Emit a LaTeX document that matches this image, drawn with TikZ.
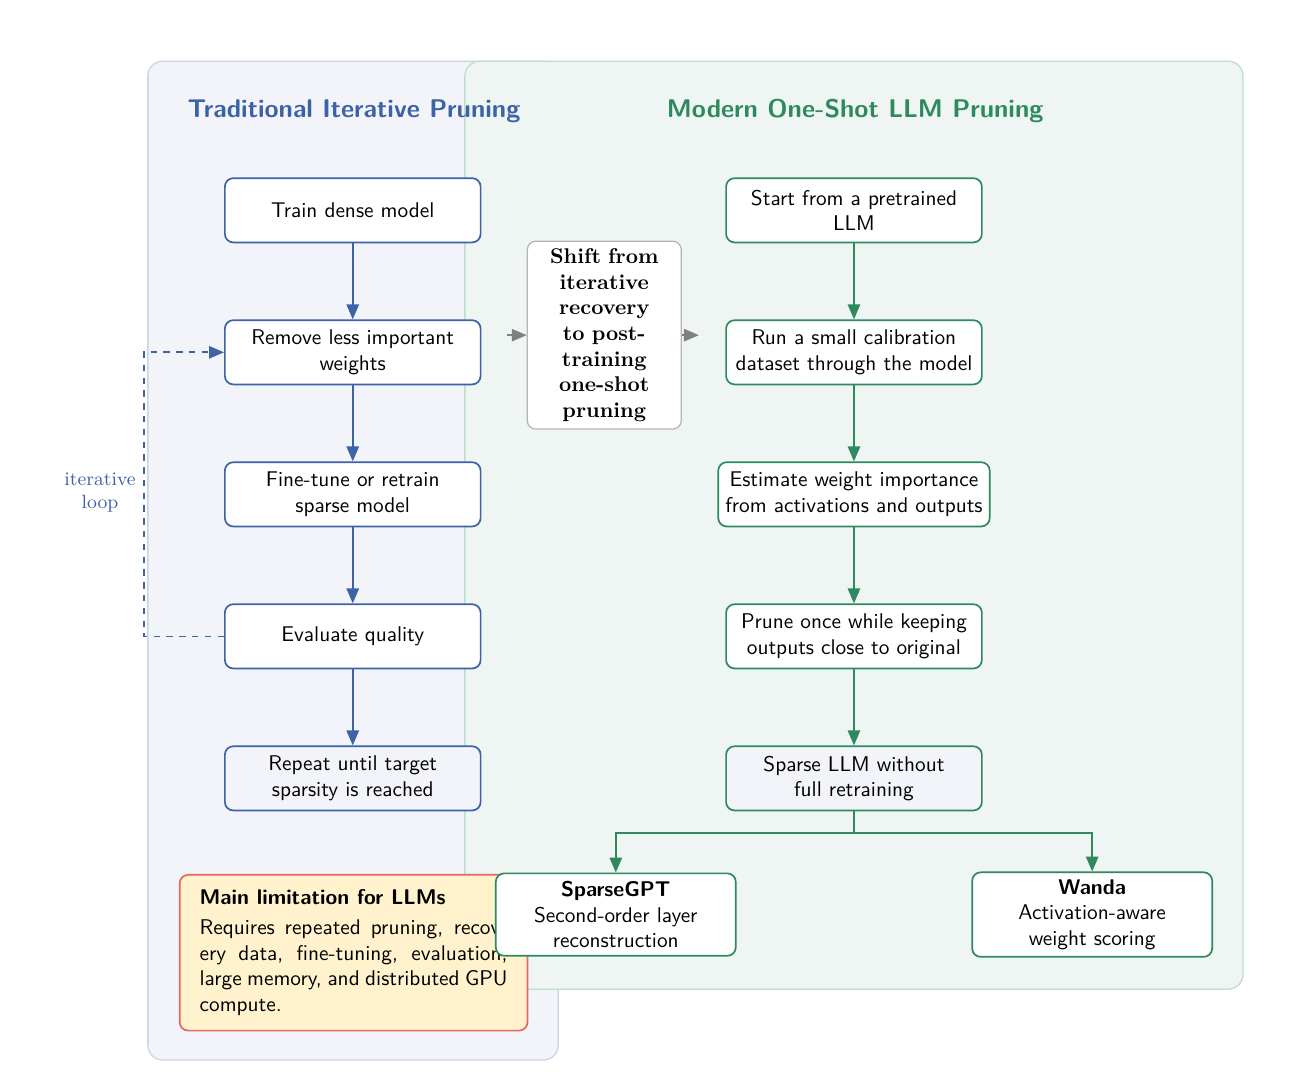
\documentclass[tikz,border=0pt]{standalone}
\usepackage{xcolor}
\usepackage{tikz}
\usetikzlibrary{arrows.meta, positioning, calc}
\definecolor{iterblue}{HTML}{3C62A8}
\definecolor{oneshotgreen}{HTML}{2E8A5E}
\definecolor{panelblue}{HTML}{F2F4F9}
\definecolor{panelblueline}{HTML}{C9D4E8}
\definecolor{panelgreen}{HTML}{EEF5F2}
\definecolor{panelgreenline}{HTML}{BCDFCD}
\definecolor{shiftgrey}{HTML}{B5B5B5}
\definecolor{arrowgrey}{HTML}{808080}
\definecolor{warnred}{HTML}{E06A66}
\definecolor{warnfill}{HTML}{FFF2CC}

\begin{document}
\begin{tikzpicture}[
    >={Triangle[length=7pt, width=5.8pt]},
    node distance=1.255cm,
    panel/.style={rounded corners=7pt, line width=0.6pt},
    title/.style={font=\sffamily\large\bfseries, align=center},
    bluebox/.style={
      rectangle, rounded corners=4pt, draw=iterblue, line width=0.8pt,
      fill=white, align=center, font=\sffamily,
      minimum width=4.22cm, minimum height=1.06cm
    },
    greenbox/.style={
      rectangle, rounded corners=4pt, draw=oneshotgreen, line width=0.8pt,
      fill=white, align=center, font=\sffamily,
      minimum width=4.22cm, minimum height=1.06cm
    },
    endblue/.style={bluebox, fill=panelblue},
    endgreen/.style={greenbox, fill=panelblue},
    methodbox/.style={greenbox, minimum width=3.96cm, minimum height=1.36cm},
    shiftbox/.style={
      rectangle, rounded corners=4pt, draw=shiftgrey, line width=0.6pt,
      fill=white, text width=2.2cm, align=center, font=\bfseries,
      inner xsep=0.17cm, minimum height=3.1cm
    },
    warnbox/.style={
      rectangle, rounded corners=4pt, draw=warnred, line width=0.8pt,
      fill=warnfill, text width=5.08cm, align=justify, font=\sffamily,
      inner xsep=0.33cm, minimum height=2.57cm
    },
    looplabel/.style={font=\small, text=iterblue, align=center},
    blueflow/.style={->, line width=0.8pt, draw=iterblue},
    greenflow/.style={->, line width=0.8pt, draw=oneshotgreen},
    loopdash/.style={->, line width=0.8pt, draw=iterblue, dashed},
    greyarrow/.style={->, line width=0.8pt, draw=arrowgrey}
  ]

  \useasboundingbox (0,0) rectangle (21.68,-17.85);

  % ===== panels =====
  \draw[panel, draw=panelblueline, fill=panelblue] (2.44,-1.01) rectangle (9.21,-17.49);
  \draw[panel, draw=panelgreenline, fill=panelgreen] (7.67,-1.01) rectangle (20.51,-16.32);

  \node[title, text=iterblue] (lefttitle) at (5.84,-1.83) {Traditional Iterative Pruning};
  \node[title, text=oneshotgreen] (righttitle) at (14.11,-1.83) {Modern One-Shot LLM Pruning};

  % ===== traditional pipeline =====
  \node[bluebox] (train) at (5.82,-3.47) {Train dense model};
  \node[bluebox, below=of train] (remove) {Remove less important\\weights};
  \node[bluebox, below=of remove] (finetune) {Fine-tune or retrain\\sparse model};
  \node[bluebox, below=of finetune] (evaluate) {Evaluate quality};
  \node[endblue, below=of evaluate] (repeat) {Repeat until target\\sparsity is reached};

  \draw[blueflow] (train) -- (remove);
  \draw[blueflow] (remove) -- (finetune);
  \draw[blueflow] (finetune) -- (evaluate);
  \draw[blueflow] (evaluate) -- (repeat);
  \draw[loopdash] (evaluate.west) -- ++(-1.32,0) |- (remove.west);
  \node[looplabel] (looptext) at (1.65,-8.13) {iterative\\loop};

  % ===== one-shot pipeline =====
  \node[greenbox] (pretrained) at (14.09,-3.47) {Start from a pretrained\\LLM};
  \node[greenbox, below=of pretrained] (calib) {Run a small calibration\\dataset through the model};
  \node[greenbox, below=of calib] (importance) {Estimate weight importance\\from activations and outputs};
  \node[greenbox, below=of importance] (pruneonce) {Prune once while keeping\\outputs close to original};
  \node[endgreen, below=of pruneonce] (sparse) {Sparse LLM without\\full retraining};

  \draw[greenflow] (pretrained) -- (calib);
  \draw[greenflow] (calib) -- (importance);
  \draw[greenflow] (importance) -- (pruneonce);
  \draw[greenflow] (pruneonce) -- (sparse);

  % ===== shift in the middle =====
  \node[shiftbox] (shift) at (9.97,-5.53)
    {Shift from iterative recovery to post-training one-shot pruning};
  \coordinate (shiftin) at ($(shift.west)+(-0.32,0)$);
  \coordinate (shiftout) at ($(shift.east)+(0.28,0)$);
  \draw[greyarrow] (shiftin) -- (shift.west);
  \draw[greyarrow] (shift.east) -- (shiftout);

  % ===== bottom row =====
  \node[warnbox, anchor=north west] (limits) at (2.95,-14.42)
    {\textbf{Main limitation for LLMs}\\[2pt]
     Requires repeated pruning, recovery data, fine-tuning, evaluation,
     large memory, and distributed GPU compute.};

  \node[methodbox] (sparsegpt) at (10.16,-15.09)
    {\textbf{SparseGPT}\\Second-order layer\\reconstruction};
  \node[methodbox] (wanda) at (18.02,-15.09)
    {\textbf{Wanda}\\Activation-aware\\weight scoring};

  \draw[greenflow] (sparse.south) -- ++(0,-0.36) -| (sparsegpt.north);
  \draw[greenflow] (sparse.south) -- ++(0,-0.36) -| (wanda.north);

\end{tikzpicture}
\end{document}
